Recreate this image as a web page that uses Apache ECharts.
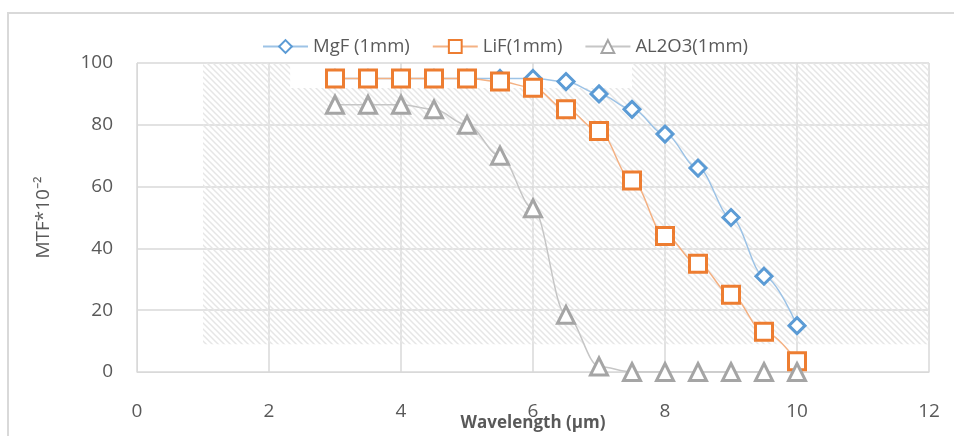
<!DOCTYPE html>
<html>
<head>
<meta charset="utf-8">
<script src="https://cdn.jsdelivr.net/npm/echarts@6/dist/echarts.min.js"></script>
<style>
  html, body { margin: 0; padding: 0; background: #fff; }
  #chart { width: 954px; height: 436px; }
</style>
</head>
<body>
<div id="chart"></div>
<script>
// wavelength (µm) of every measured point
const wavelength = [3, 3.5, 4, 4.5, 5, 5.5, 6, 6.5, 7, 7.5, 8, 8.5, 9, 9.5, 10]
// MTF*10^-2 values
const mgf   = [95, 95, 95, 95, 95, 95, 95, 94, 90, 85, 77, 66, 50, 31, 15]
const lif   = [95, 95, 95, 95, 95, 94, 92, 85, 78, 62, 44, 35, 25, 13, 3.5]
const al2o3 = [86.5, 86.5, 86.5, 85, 80, 70, 53, 18.5, 1.8, 0, 0, 0, 0, 0, 0]
const seriesNames = ['MgF (1mm)', 'LiF(1mm)', 'AL2O3(1mm)']
// hatched background blocks [x1, y1, x2, y2] in axis units
const hatchAreas = [
    [1, 9, 12, 91.9],
    [1, 91.9, 2.32, 100],
    [7.5, 91.9, 12, 100]
]

const toPoints = vals => wavelength.map((x, i) => [x, vals[i]])

// diagonal stripe tile for the hatched block
const makeHatch = () => {
    const s = 6
    const c = document.createElement('canvas')
    c.width = s
    c.height = s
    const ctx = c.getContext('2d')
    ctx.strokeStyle = '#e6e6e6'
    ctx.lineWidth = 1.5
    ctx.beginPath()
    ctx.moveTo(-1, -1); ctx.lineTo(s + 1, s + 1)
    ctx.moveTo(s - 1, -1); ctx.lineTo(s + 1, 1)
    ctx.moveTo(-1, s - 1); ctx.lineTo(1, s + 1)
    ctx.stroke()
    return c
}

const chart = echarts.init(document.getElementById('chart'))
const font = '"Open Sans", sans-serif'
const labelColor = '#595959'
const gridColor = '#d9d9d9'

const lineSeries = (name, vals, symbol, size, color, lineColor) => ({
    name: name,
    type: 'line',
    data: toPoints(vals),
    smooth: 0.35,
    smoothMonotone: 'x',
    symbol: symbol,
    symbolSize: size,
    showAllSymbol: true,
    lineStyle: { color: lineColor, width: 1.5 },
    itemStyle: { color: '#fff', borderColor: color, borderWidth: 3 },
    emphasis: { disabled: true }
})

const mgfSeries = lineSeries(seriesNames[0], mgf, 'diamond', 16, '#5b9bd5', '#9dc3e6')
mgfSeries.markArea = {
    silent: true,
    itemStyle: { color: { image: makeHatch(), repeat: 'repeat' } },
    data: hatchAreas.map(a => [{ xAxis: a[0], yAxis: a[1] }, { xAxis: a[2], yAxis: a[3] }])
}

const option = {
    backgroundColor: '#fff',
    animation: false,
    textStyle: { fontFamily: font },
    graphic: [{
        type: 'rect',
        silent: true,
        shape: { x: 8, y: 13, width: 1000, height: 500 },
        style: { fill: 'none', stroke: gridColor, lineWidth: 2 }
    }],
    legend: {
        top: 32,
        left: 257,
        itemWidth: 45,
        itemHeight: 16,
        itemGap: 22,
        textStyle: { color: labelColor, fontSize: 18.5, fontFamily: font },
        data: seriesNames
    },
    grid: {
        left: 137,
        right: 25,
        top: 63,
        bottom: 64,
        containLabel: false,
        outerBoundsMode: 'none'
    },
    xAxis: {
        type: 'value',
        min: 0,
        max: 12,
        interval: 2,
        name: 'Wavelength (µm)',
        nameLocation: 'middle',
        nameGap: 51,
        nameMoveOverlap: false,
        nameTextStyle: { color: labelColor, fontSize: 17, fontWeight: 'bold', fontFamily: font, verticalAlign: 'middle' },
        axisLine: { lineStyle: { color: gridColor } },
        axisTick: { show: false },
        axisLabel: { color: labelColor, fontSize: 19, margin: 30 },
        splitLine: { lineStyle: { color: gridColor, width: 1.5 } }
    },
    yAxis: {
        type: 'value',
        min: 0,
        max: 100,
        interval: 20,
        name: 'MTF*10⁻²',
        nameLocation: 'middle',
        nameGap: 84,
        nameMoveOverlap: false,
        nameRotate: 90,
        nameTextStyle: { color: labelColor, fontSize: 19, fontFamily: font },
        axisLine: { show: true, lineStyle: { color: gridColor } },
        axisTick: { show: false },
        axisLabel: { color: labelColor, fontSize: 19, margin: 24 },
        splitLine: { lineStyle: { color: gridColor, width: 1.5 } }
    },
    series: [
        mgfSeries,
        lineSeries(seriesNames[1], lif, 'rect', 17, '#ed7d31', '#f4b183'),
        lineSeries(seriesNames[2], al2o3, 'triangle', 17, '#a5a5a5', '#c6c6c6')
    ]
}

chart.setOption(option)
</script>
</body>
</html>
